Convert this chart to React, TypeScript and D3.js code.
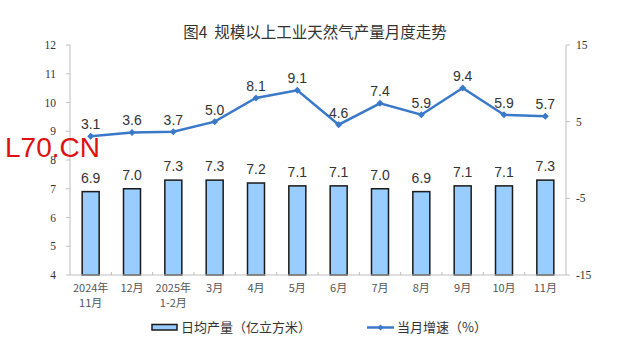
import React from "react";
import * as d3 from "d3";

const categories: string[][] = [
  ["2024年", "11月"], ["12月"], ["2025年", "1-2月"], ["3月"], ["4月"], ["5月"],
  ["6月"], ["7月"], ["8月"], ["9月"], ["10月"], ["11月"],
];
const output: number[] = [6.9, 7.0, 7.3, 7.3, 7.2, 7.1, 7.1, 7.0, 6.9, 7.1, 7.1, 7.3];
const growth: number[] = [3.1, 3.6, 3.7, 5.0, 8.1, 9.1, 4.6, 7.4, 5.9, 9.4, 5.9, 5.7];
const leftTicks: number[] = [4, 5, 6, 7, 8, 9, 10, 11, 12];
const rightTicks: number[] = [-15, -5, 5, 15];
const title = "图4  规模以上工业天然气产量月度走势";
const legendBar = "日均产量（亿立方米）";
const legendLine = "当月增速（%）";

export default function App() {
  const W = 639, H = 356;
  const x0 = 70, x1 = 566, yTop = 45, yBot = 275;
  const idx = categories.map((_, i) => String(i));
  const x = d3.scaleBand<string>().domain(idx).range([x0, x1]).padding(0);
  const yL = d3.scaleLinear().domain([4, 12]).range([yBot, yTop]);
  const yR = d3.scaleLinear().domain([-15, 15]).range([yBot, yTop]);
  const bw = 17;
  const cx = (i: number) => (x(String(i)) as number) + x.bandwidth() / 2;
  const line = d3.line<number>().x((_, i) => cx(i)).y((d) => yR(d));
  const axisColor = "#bfbfbf";
  const tickFont = "'Liberation Serif', 'DejaVu Serif', serif";
  const cjk = "'Noto Sans CJK SC', sans-serif";
  const diamond = (px: number, py: number, s: number) =>
    `M${px},${py - s}L${px + s},${py}L${px},${py + s}L${px - s},${py}Z`;

  return (
    <svg width={W} height={H} style={{ position: "absolute", left: 0, top: 0, background: "#fff" }}>
      <text x={315} y={38} textAnchor="middle" fontSize={15.5} fill="#333" fontFamily={cjk}
        style={{ whiteSpace: "pre" }}>{title}</text>

      {/* bars */}
      {output.map((v, i) => (
        <rect key={"b" + i} x={cx(i) - bw / 2} y={yL(v)} width={bw} height={yBot - yL(v)}
          fill="#99ccff" stroke="#1a1a1a" strokeWidth={1.5} />
      ))}

      {/* axes */}
      <line x1={x0} x2={x0} y1={yTop} y2={yBot} stroke={axisColor} />
      <line x1={x1} x2={x1} y1={yTop} y2={yBot} stroke={axisColor} />
      <line x1={x0} x2={x1} y1={yBot} y2={yBot} stroke={axisColor} />
      {leftTicks.map((t) => (
        <g key={"lt" + t}>
          <line x1={x0 - 4} x2={x0} y1={yL(t)} y2={yL(t)} stroke={axisColor} />
          <text x={56} y={yL(t) + 4} textAnchor="end" fontSize={11.5} fill="#333" fontFamily={tickFont}>{t}</text>
        </g>
      ))}
      {rightTicks.map((t) => (
        <g key={"rt" + t}>
          <line x1={x1} x2={x1 + 4} y1={yR(t)} y2={yR(t)} stroke={axisColor} />
          <text x={576} y={yR(t) + 4} textAnchor="start" fontSize={11.5} fill="#333" fontFamily={tickFont}>{t}</text>
        </g>
      ))}
      {idx.slice(1).map((k) => (
        <line key={"xt" + k} x1={x(k) as number} x2={x(k) as number} y1={yBot} y2={yBot - 3} stroke={axisColor} />
      ))}
      {categories.map((lines, i) => (
        <text key={"xl" + i} textAnchor="middle" fontSize={11} fill="#555" fontFamily={cjk}>
          {lines.map((s, j) => (
            <tspan key={j} x={cx(i)} y={292 + j * 14.5}>{s}</tspan>
          ))}
        </text>
      ))}

      {/* bar labels */}
      {output.map((v, i) => (
        <text key={"bl" + i} x={cx(i)} y={yL(v) - 9} textAnchor="middle" fontSize={14}
          fill="#333" fontFamily="'Liberation Sans', Arial, sans-serif">{v.toFixed(1)}</text>
      ))}

      {/* line */}
      <path d={line(growth) || ""} fill="none" stroke="#3a78c8" strokeWidth={2.5} />
      {growth.map((v, i) => (
        <path key={"m" + i} d={diamond(cx(i), yR(v), 3.5)} fill="#3a78c8" />
      ))}
      {growth.map((v, i) => (
        <text key={"gl" + i} x={cx(i)} y={yR(v) - 7} textAnchor="middle" fontSize={14}
          fill="#333" fontFamily="'Liberation Sans', Arial, sans-serif">{v.toFixed(1)}</text>
      ))}

      {/* watermark */}
      <text x={5} y={157} fontSize={28} fill="#e01010" fontFamily="'Liberation Sans', Arial, sans-serif">L70.CN</text>

      {/* legend */}
      <rect x={152} y={324.5} width={25} height={5.5} fill="#99ccff" stroke="#1a1a1a" strokeWidth={1.5} />
      <text x={181} y={332} fontSize={13} fill="#333" fontFamily={cjk}>{legendBar}</text>
      <line x1={367} x2={394} y1={327.5} y2={327.5} stroke="#3a78c8" strokeWidth={2.5} />
      <path d={diamond(380.5, 327.5, 3)} fill="#3a78c8" />
      <text x={397} y={332} fontSize={13} fill="#333" fontFamily={cjk}>{legendLine}</text>
    </svg>
  );
}
